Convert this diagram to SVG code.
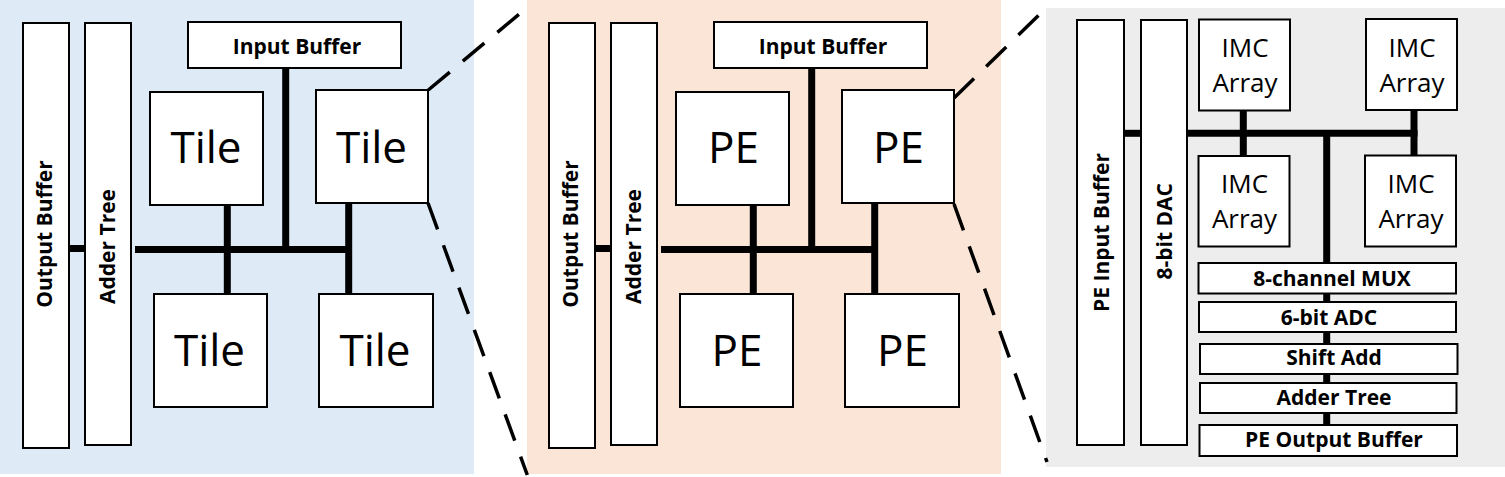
<svg xmlns="http://www.w3.org/2000/svg" width="1505" height="477" viewBox="0 0 1505 477">
  <style>
    .box { fill: #FFFFFF; stroke: #000000; stroke-width: 2; }
    .bus { stroke: #000000; stroke-width: 7; fill: none; stroke-linecap: butt; }
    .zoom { stroke: #000000; stroke-width: 3.5; fill: none; stroke-dasharray: 28 17; }
    .lbl { font-family: "Open Sans", "Noto Sans", sans-serif; fill: #000000; text-anchor: middle; }
    .big { font-size: 44px; }
    .imc { font-size: 26px; }
    .bold { font-size: 21px; font-weight: bold; }
    .stack { font-size: 21px; font-weight: bold; }
  </style>

  <!-- panel backgrounds -->
  <rect x="0" y="0" width="474" height="474" fill="#DEEBF7"/>
  <rect x="527" y="0" width="474" height="474" fill="#FBE5D6"/>
  <rect x="1046" y="8" width="459" height="459" fill="#EDEDED"/>

  <!-- connectors -->
  <g id="connectors">
    <!-- panel 1 -->
    <line class="bus" x1="69" y1="248.5" x2="85" y2="248.5"/>
    <line class="bus" x1="135" y1="249.5" x2="352" y2="249.5"/>
    <line class="bus" x1="285.7" y1="68" x2="285.7" y2="249.5"/>
    <line class="bus" x1="227.3" y1="205" x2="227.3" y2="294"/>
    <line class="bus" x1="348.7" y1="203" x2="348.7" y2="294"/>
    <!-- panel 2 -->
    <line class="bus" x1="595" y1="248.5" x2="611" y2="248.5"/>
    <line class="bus" x1="661" y1="249.5" x2="878" y2="249.5"/>
    <line class="bus" x1="811.7" y1="68" x2="811.7" y2="249.5"/>
    <line class="bus" x1="753.3" y1="205" x2="753.3" y2="294"/>
    <line class="bus" x1="874.7" y1="203" x2="874.7" y2="294"/>
    <!-- panel 3 -->
    <line class="bus" x1="1124" y1="133.3" x2="1141" y2="133.3"/>
    <line class="bus" x1="1187" y1="133.3" x2="1417.5" y2="133.3"/>
    <line class="bus" x1="1243.3" y1="110" x2="1243.3" y2="156"/>
    <line class="bus" x1="1414" y1="110" x2="1414" y2="155"/>
    <line class="bus" x1="1326.7" y1="133.3" x2="1326.7" y2="425"/>
    <!-- zoom-out dashed lines -->
    <line class="zoom" x1="428.3" y1="90" x2="519.3" y2="14"/>
    <line class="zoom" x1="428" y1="203" x2="527.3" y2="475"/>
    <line class="zoom" x1="954" y1="98" x2="1039" y2="15"/>
    <line class="zoom" x1="954" y1="204" x2="1047" y2="462"/>
  </g>

  <!-- panel 1: chip -->
  <g id="p1-output-buffer">
    <rect class="box" x="23" y="23" width="46" height="425"/>
    <text class="lbl bold" transform="translate(51.5,234) rotate(-90)">Output Buffer</text>
  </g>
  <g id="p1-adder-tree">
    <rect class="box" x="85" y="23" width="46" height="422"/>
    <text class="lbl bold" transform="translate(115,246.5) rotate(-90)">Adder Tree</text>
  </g>
  <g id="p1-input-buffer">
    <rect class="box" x="188" y="22" width="213" height="46"/>
    <text class="lbl bold" x="297" y="53.5">Input Buffer</text>
  </g>
  <g id="p1-tile-tl">
    <rect class="box" x="150" y="92" width="113" height="113"/>
    <text class="lbl big" x="206" y="163.3">Tile</text>
  </g>
  <g id="p1-tile-tr">
    <rect class="box" x="316" y="90" width="112" height="113"/>
    <text class="lbl big" x="371.5" y="163">Tile</text>
  </g>
  <g id="p1-tile-bl">
    <rect class="box" x="154" y="294" width="113" height="113"/>
    <text class="lbl big" x="209.5" y="365.7">Tile</text>
  </g>
  <g id="p1-tile-br">
    <rect class="box" x="319" y="294" width="114" height="113"/>
    <text class="lbl big" x="375" y="365.7">Tile</text>
  </g>

  <!-- panel 2: tile -->
  <g id="p2-output-buffer">
    <rect class="box" x="549" y="23" width="46" height="425"/>
    <text class="lbl bold" transform="translate(577.5,234) rotate(-90)">Output Buffer</text>
  </g>
  <g id="p2-adder-tree">
    <rect class="box" x="611" y="23" width="46" height="422"/>
    <text class="lbl bold" transform="translate(641,246.5) rotate(-90)">Adder Tree</text>
  </g>
  <g id="p2-input-buffer">
    <rect class="box" x="714" y="22" width="213" height="46"/>
    <text class="lbl bold" x="823" y="53.5">Input Buffer</text>
  </g>
  <g id="p2-pe-tl">
    <rect class="box" x="676" y="92" width="113" height="113"/>
    <text class="lbl big" x="733.5" y="163.3">PE</text>
  </g>
  <g id="p2-pe-tr">
    <rect class="box" x="842" y="90" width="112" height="113"/>
    <text class="lbl big" x="898.5" y="163">PE</text>
  </g>
  <g id="p2-pe-bl">
    <rect class="box" x="680" y="294" width="113" height="113"/>
    <text class="lbl big" x="737" y="365.7">PE</text>
  </g>
  <g id="p2-pe-br">
    <rect class="box" x="845" y="294" width="114" height="113"/>
    <text class="lbl big" x="902.5" y="365.7">PE</text>
  </g>

  <!-- panel 3: PE -->
  <g id="p3-pe-input-buffer">
    <rect class="box" x="1077" y="20" width="47" height="425"/>
    <text class="lbl bold" transform="translate(1108.5,232.5) rotate(-90)">PE Input Buffer</text>
  </g>
  <g id="p3-dac">
    <rect class="box" x="1141" y="20" width="46" height="425"/>
    <text class="lbl bold" transform="translate(1172,231.3) rotate(-90)">8-bit DAC</text>
  </g>
  <g id="p3-imc-tl">
    <rect class="box" x="1199" y="19.5" width="91" height="91"/>
    <text class="lbl imc" x="1245" y="56.5">IMC</text>
    <text class="lbl imc" x="1245" y="91.7">Array</text>
  </g>
  <g id="p3-imc-tr">
    <rect class="box" x="1366" y="19" width="91" height="91"/>
    <text class="lbl imc" x="1412" y="56.5">IMC</text>
    <text class="lbl imc" x="1412" y="91.7">Array</text>
  </g>
  <g id="p3-imc-bl">
    <rect class="box" x="1198.5" y="156" width="91" height="90.5"/>
    <text class="lbl imc" x="1244.5" y="192.7">IMC</text>
    <text class="lbl imc" x="1244.5" y="228.3">Array</text>
  </g>
  <g id="p3-imc-br">
    <rect class="box" x="1365" y="155.5" width="91" height="91"/>
    <text class="lbl imc" x="1411" y="192.7">IMC</text>
    <text class="lbl imc" x="1411" y="228.3">Array</text>
  </g>
  <g id="p3-mux">
    <rect class="box" x="1198.5" y="263" width="257.5" height="30.5"/>
    <text class="lbl stack" x="1332" y="286">8-channel MUX</text>
  </g>
  <g id="p3-adc">
    <rect class="box" x="1199" y="302" width="257" height="30"/>
    <text class="lbl stack" x="1329" y="325">6-bit ADC</text>
  </g>
  <g id="p3-shift-add">
    <rect class="box" x="1200" y="344" width="257.5" height="30"/>
    <text class="lbl stack" x="1334" y="365">Shift Add</text>
  </g>
  <g id="p3-adder-tree">
    <rect class="box" x="1200" y="383" width="256.5" height="30"/>
    <text class="lbl stack" x="1334" y="405">Adder Tree</text>
  </g>
  <g id="p3-pe-output-buffer">
    <rect class="box" x="1199.5" y="425" width="257.5" height="31"/>
    <text class="lbl stack" x="1334" y="447.3">PE Output Buffer</text>
  </g>
</svg>
